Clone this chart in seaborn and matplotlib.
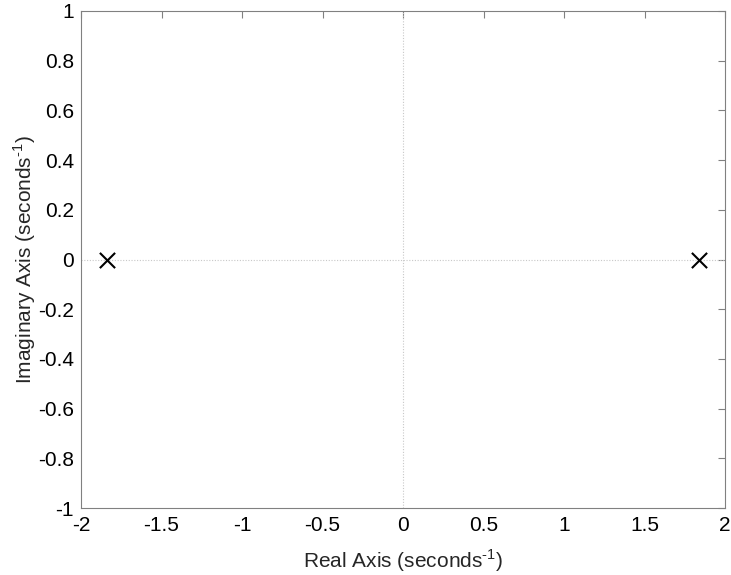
import matplotlib
matplotlib.use("Agg")
import matplotlib.pyplot as plt
import seaborn as sns
import pandas as pd
import numpy as np

real_parts = [-1.84, 1.84]
imag_parts = [0.0, 0.0]
x_ticks = [-2, -1.5, -1, -0.5, 0, 0.5, 1, 1.5, 2]
y_ticks = [-1, -0.8, -0.6, -0.4, -0.2, 0, 0.2, 0.4, 0.6, 0.8, 1]

sns.set_theme(style="white")
plt.rcParams['font.family'] = ['Liberation Sans', 'DejaVu Sans']
plt.rcParams['mathtext.fontset'] = 'custom'
plt.rcParams['mathtext.rm'] = 'Liberation Sans'

W, H = 731, 575
L, R, T, B = 81, 725, 11, 508
fig = plt.figure(figsize=(W/100, H/100), dpi=100)
ax = fig.add_axes([L/W, 1-B/H, (R-L)/W, (B-T)/H])

df = pd.DataFrame({"real": real_parts, "imag": imag_parts})
ax.axhline(0, color="#c8c8c8", lw=0.8, ls=(0, (1, 1.5)), zorder=1)
ax.axvline(0, color="#c8c8c8", lw=0.8, ls=(0, (1, 1.5)), zorder=1)
sns.scatterplot(data=df, x="real", y="imag", marker="x", s=120, color="black",
                linewidth=1.5, ax=ax, zorder=3)

ax.set_xlim(-2, 2)
ax.set_ylim(-1, 1)
ax.set_xticks(x_ticks)
ax.set_yticks(y_ticks)
ax.set_xticklabels([f"{v:g}" for v in x_ticks])
ax.set_yticklabels([f"{v:g}" for v in y_ticks])
ax.tick_params(direction="in", top=True, right=True, length=5, width=0.8,
               color="#808080", labelsize=15, labelcolor="black")
ax.tick_params(axis="x", pad=6)
ax.tick_params(axis="y", pad=5)
for s in ax.spines.values():
    s.set_color("#808080")
    s.set_linewidth(0.8)
ax.set_xlabel(r"Real Axis (seconds$^{\mathregular{\text{-}1}}$)", fontsize=15, labelpad=9)
ax.set_ylabel(r"Imaginary Axis (seconds$^{\mathregular{\text{-}1}}$)", fontsize=15, labelpad=0)

fig.savefig("out.png", dpi=100)
